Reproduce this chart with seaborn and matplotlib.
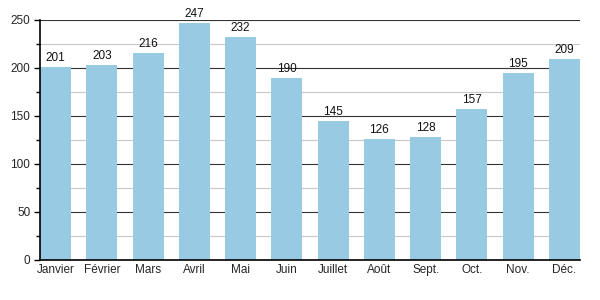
import matplotlib
matplotlib.use("Agg")
import matplotlib.pyplot as plt
from matplotlib.ticker import MultipleLocator
import seaborn as sns
import pandas as pd

months = ["Janvier", "Février", "Mars", "Avril", "Mai", "Juin", "Juillet",
          "Août", "Sept.", "Oct.", "Nov.", "Déc."]
values = [201, 203, 216, 247, 232, 190, 145, 126, 128, 157, 195, 209]

df = pd.DataFrame({"mois": months, "valeur": values})

sns.set_style("white")
plt.rcParams["font.family"] = ["Liberation Sans", "DejaVu Sans"]

fig = plt.figure(figsize=(6, 3), dpi=100)
ax = fig.add_axes([40 / 600, 40 / 300, 540 / 600, 240 / 300])

sns.barplot(data=df, x="mois", y="valeur", color="#98cbe3", saturation=1,
            width=0.67, ax=ax, zorder=3, linewidth=0, edgecolor="none")

ax.set_ylim(0, 250)
ax.set_xlim(-0.335, len(months) - 1 + 0.335)
ax.yaxis.set_major_locator(MultipleLocator(50))
ax.yaxis.set_minor_locator(MultipleLocator(25))
ax.grid(axis="y", which="major", color="#333333", linewidth=0.8, zorder=0)
ax.grid(axis="y", which="minor", color="#c8c8c8", linewidth=0.8, zorder=0)
ax.set_axisbelow(True)

for s in ["top", "right"]:
    ax.spines[s].set_visible(False)
for s in ["left", "bottom"]:
    ax.spines[s].set_color("black")
    ax.spines[s].set_linewidth(1.2)
    ax.spines[s].set_zorder(4)

ax.tick_params(axis="y", which="major", length=4, width=1, color="black",
               labelsize=8.5, pad=3, left=True)
ax.tick_params(axis="y", which="minor", length=3, width=1, color="black", left=True)
ax.tick_params(axis="x", length=0, labelsize=8.5, pad=3)
ax.set_xlabel("")
ax.set_ylabel("")

for i, v in enumerate(values):
    ax.text(i, v + 3, str(v), ha="center", va="bottom", fontsize=8.5, color="#111111")

fig.savefig("out.png", dpi=100)
